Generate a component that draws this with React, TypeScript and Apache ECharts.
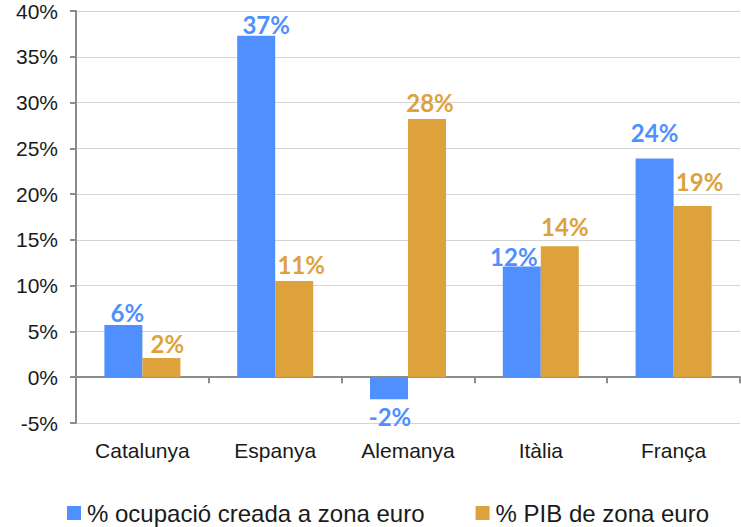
import React, { useEffect, useRef } from "react";
import * as echarts from "echarts";

const categories = ["Catalunya", "Espanya", "Alemanya", "Itàlia", "França"];
const seriesNames = ["% ocupació creada a zona euro", "% PIB de zona euro"];
const ocupacioValues = [5.7, 37.3, -2.4, 12.1, 23.9];
const pibValues = [2.1, 10.5, 28.2, 14.3, 18.7];
const yTicks = { min: -5, max: 40, interval: 5 };

const BLUE = "#508FFE";
const ORANGE = "#DEA23C";

// label nudges [dx, gap above bar top]
const blueLabelShift = [[4, 4], [10, 2], [1, 8], [-8, 1], [0, 17]];
const orangeLabelShift = [[6, 5], [7, 8], [3, 8], [5, 11], [7, 16]];

const BASE = 3;

function buildData(values: number[], shifts: number[][]) {
  return values.map((v, i) => {
    const [dx, gap] = shifts[i];
    if (v < 0) {
      return {
        value: v,
        label: { position: "bottom", distance: 0, offset: [dx, gap - BASE] },
      };
    }
    return {
      value: v,
      label: { position: "top", distance: 0, offset: [dx, -(gap - BASE)] },
    };
  });
}

export default function App() {
  const ref = useRef<HTMLDivElement>(null);
  useEffect(() => {
    document.body.style.margin = "0";
    const chart = echarts.init(ref.current!, undefined, { renderer: "svg" });
    const labelStyle = (color: string) => ({
      show: true,
      color,
      fontFamily: "Lato",
      fontWeight: "bold",
      fontSize: 24,
      formatter: (p: any) => Math.round(p.value) + "%",
    });
    chart.setOption({
      animation: false,
      grid: { left: 76, right: 1, top: 11, bottom: 104, containLabel: false },
      legend: {
        left: 67,
        top: 501,
        padding: 0,
        itemWidth: 14,
        itemHeight: 14,
        itemGap: 51,
        icon: "rect",
        textStyle: {
          fontFamily: "Liberation Sans",
          fontSize: 24,
          color: "#1a1a1a",
          padding: [0, 0, 0, 1],
        },
        data: seriesNames,
      },
      xAxis: {
        type: "category",
        data: categories,
        axisLine: { onZero: true, lineStyle: { color: "#8c8c8c", width: 2 } },
        axisTick: { show: true, length: 6, lineStyle: { color: "#8c8c8c", width: 2 } },
        axisLabel: {
          margin: 17,
          fontFamily: "Liberation Sans",
          fontSize: 21,
          color: "#1a1a1a",
        },
      },
      yAxis: {
        type: "value",
        min: yTicks.min,
        max: yTicks.max,
        interval: yTicks.interval,
        axisLine: { show: true, lineStyle: { color: "#8c8c8c", width: 2 } },
        axisTick: { show: true, length: 6, lineStyle: { color: "#8c8c8c", width: 2 } },
        splitLine: { lineStyle: { color: "#d4d4d4", width: 1 } },
        axisLabel: {
          margin: 18,
          formatter: "{value}%",
          fontFamily: "Liberation Sans",
          fontSize: 21,
          color: "#1a1a1a",
        },
      },
      series: [
        {
          name: seriesNames[0],
          type: "bar",
          barWidth: 38,
          barGap: "0%",
          itemStyle: { color: BLUE },
          label: labelStyle(BLUE),
          data: buildData(ocupacioValues, blueLabelShift),
        },
        {
          name: seriesNames[1],
          type: "bar",
          barWidth: 38,
          barGap: "0%",
          itemStyle: { color: ORANGE },
          label: labelStyle(ORANGE),
          data: buildData(pibValues, orangeLabelShift),
        },
      ],
    });
    return () => chart.dispose();
  }, []);
  return <div ref={ref} style={{ width: 741, height: 527 }} />;
}
